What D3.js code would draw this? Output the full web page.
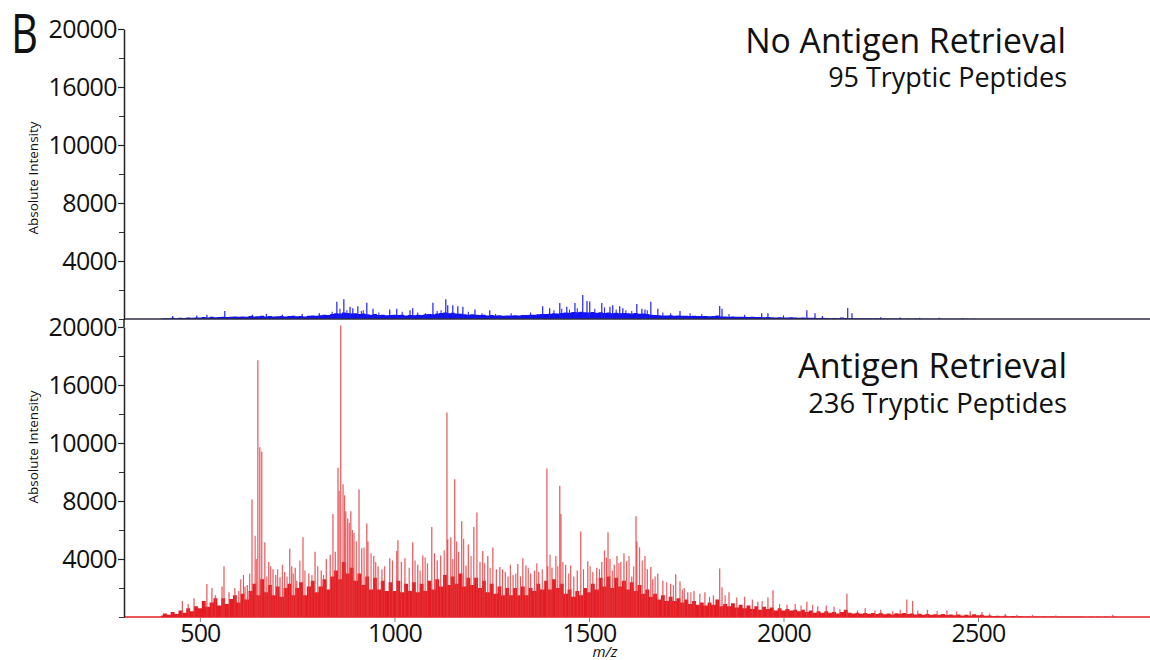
<!DOCTYPE html>
<html>
<head>
<meta charset="utf-8">
<script src="https://cdn.jsdelivr.net/npm/d3@7"></script>
<style>
  html, body { margin: 0; padding: 0; background: #fff; }
  svg { display: block; }
  text { font-family: "Open Sans", "Noto Sans", sans-serif; fill: #111; }
</style>
</head>
<body>
<svg id="chart" width="1150" height="660"></svg>
<script>
// ---------------- DATA ----------------
const yTickValues = [4000, 8000, 12000, 16000, 20000];
const yTickLabels = ["4000", "8000", "10000", "16000", "20000"];
const yMinorTicks = [2000, 6000, 10000, 14000, 18000];
const xTickValues = [500, 1000, 1500, 2000, 2500];
const xTickLabels = ["500", "1000", "1500", "2000", "2500"];

// dense signal envelope, 10 m/z steps
const redFillStart = 400;
const redFill = [
  100, 250, 150, 350, 200, 450, 300, 600, 400, 750,
  600, 1100, 700, 1000, 1300, 800, 1300, 900, 1250, 1500,
  1000, 1600, 1200, 1800, 2300, 1500, 2600, 1700, 2200, 1500,
  2100, 1400, 2000, 2300, 1500, 2000, 2400, 1500, 2100, 2500,
  1700, 2100, 2600, 1900, 2800, 3200, 2600, 3800, 3000, 3400,
  2500, 3000, 2200, 2800, 1900, 2700, 1900, 2500, 1800, 2400,
  1800, 2500, 1700, 2300, 1800, 2400, 1700, 2300, 1800, 2500,
  1900, 2600, 2100, 2900, 2200, 2800, 2300, 3000, 2100, 2700,
  2200, 2700, 2000, 2500, 1700, 2300, 1600, 2100, 1500, 2000,
  1500, 2000, 1500, 2100, 1500, 2000, 1800, 2300, 1900, 2500,
  1900, 2600, 2000, 2300, 1600, 1900, 1400, 1800, 1500, 2000,
  1700, 2300, 1900, 2700, 2100, 2800, 2000, 2700, 2100, 2500,
  1900, 2400, 1800, 2200, 1600, 1900, 1400, 1600, 1200, 1500,
  1100, 1400, 1100, 1300, 1000, 1200, 900, 1100, 850, 1000,
  800, 1000, 850, 1200, 750, 900, 750, 950, 650, 850,
  600, 800, 550, 750, 500, 700, 550, 650, 450, 600,
  450, 550, 450, 500, 400, 500, 350, 450, 300, 400,
  300, 400, 300, 350, 250, 350, 500, 300, 250, 300,
  230, 280, 220, 280, 200, 270, 190, 250, 180, 260,
  220, 280, 200, 250, 180, 230, 160, 210, 150, 190,
  150, 200, 130, 180, 120, 170, 110, 160, 100, 190,
  120, 150, 80, 100, 50, 90, 40, 80, 30, 70,
  30, 50, 20, 40, 20, 40, 20, 30, 15, 30,
  10, 25, 10, 20, 10, 20, 10, 15, 5, 15,
  5, 10, 5, 10, 5, 20, 5, 5, 0, 5, 0
];

// prominent peaks
const redPeakMz = [
  455, 470, 485, 518, 531, 540, 557, 562, 575, 590, 600, 616, 622, 634, 649, 654, 659, 667, 677, 688,
  695, 706, 718, 731, 736, 745, 749, 765, 780, 796, 812, 825, 835, 842, 848, 855, 862, 868, 875, 880,
  888, 896, 909, 916, 929, 932, 947, 958, 968, 988, 1006, 1009, 1018, 1027, 1047, 1060, 1073, 1085, 1096, 1110,
  1119, 1135, 1137, 1145, 1155, 1165, 1173, 1184, 1190, 1204, 1212, 1220, 1227, 1240, 1253, 1262, 1271, 1285, 1292, 1305,
  1317, 1330, 1338, 1350, 1360, 1371, 1392, 1394, 1405, 1415, 1425, 1428, 1440, 1453, 1461, 1470, 1479, 1497, 1510, 1520,
  1533, 1540, 1549, 1554, 1565, 1572, 1582, 1590, 1597, 1610, 1621, 1623, 1630, 1644, 1650, 1659, 1664, 1677, 1690, 1710,
  1723, 1734, 1745, 1754, 1770, 1785, 1798, 1820, 1836, 1842, 1860, 1880, 1900, 1920, 1934, 1960, 1973, 2009, 2030, 2060,
  2088, 2110, 2130, 2163, 2210, 2250, 2281, 2317, 2332, 2370, 2420, 2480, 2510, 2570, 2640, 2700, 2846
];
const redPeakInt = [
  1100, 900, 1300, 2270, 2000, 1500, 2100, 3500, 1700, 2000, 1800, 2100, 2200, 8100, 17700, 11700, 11400, 5150, 3800, 3300,
  2900, 2750, 3100, 4700, 3500, 3400, 2500, 5500, 3000, 4500, 3200, 4000, 4300, 7100, 4500, 10300, 20100, 9150, 7300, 6800,
  7300, 5800, 8800, 4750, 6450, 5200, 4200, 3500, 3300, 4050, 4550, 5300, 3800, 4050, 5150, 3600, 4250, 3700, 6200, 3900,
  4250, 14100, 5350, 5500, 9500, 4500, 6600, 3550, 5000, 6200, 7200, 3800, 4550, 4200, 4800, 3300, 3450, 3100, 2800, 2900,
  3650, 4050, 3550, 3000, 3200, 3100, 10250, 3500, 3400, 4200, 9050, 7100, 3600, 3550, 2800, 3200, 5900, 3850, 3100, 3400,
  3800, 4600, 5850, 4000, 3600, 4200, 3800, 4400, 3850, 2800, 6950, 5200, 4800, 4200, 3300, 3450, 2600, 3000, 2500, 2300,
  2950, 2450, 2000, 1700, 1800, 1600, 1700, 1500, 3350, 2050, 1700, 1350, 1400, 1200, 1050, 1350, 1850, 850, 900, 1050,
  750, 800, 700, 1600, 600, 500, 400, 1200, 1100, 500, 450, 400, 350, 200, 150, 100, 150
];

// smaller peaks within the dense signal
const redMinorMz = [
  605, 612, 628, 642, 645, 672, 682, 700, 712, 724, 740, 757, 770, 788, 803, 818, 858, 872, 884, 892,
  902, 922, 940, 952, 975, 995, 1038, 1053, 1066, 1079, 1103, 1128, 1150, 1160, 1178, 1197, 1232, 1246, 1278, 1298,
  1312, 1324, 1344, 1366, 1380, 1400, 1420, 1433, 1448, 1486, 1503, 1527, 1545, 1560, 1577, 1603, 1615, 1637, 1670, 1700,
  1717, 1740, 1762, 1810, 1850, 1945, 1990, 2045, 2075, 2145, 2190, 2235, 2300, 2345, 2395, 2445, 2530, 2600
];
const redMinorInt = [
  2600, 2900, 3000, 5600, 4000, 2800, 3500, 3300, 3600, 2800, 3000, 3900, 3200, 2900, 3500, 2900, 8700, 8400, 6500, 6000,
  5200, 4800, 4400, 3800, 3500, 3900, 3400, 3900, 3200, 4100, 4400, 4600, 4000, 5200, 5400, 4200, 3700, 3400, 3300, 3600,
  3000, 2800, 3400, 3700, 3300, 4300, 3500, 3800, 3000, 3300, 3500, 3300, 4100, 3200, 3700, 4200, 3500, 3900, 2800, 2400,
  2200, 1900, 1700, 1400, 1500, 1100, 900, 800, 850, 550, 450, 450, 500, 450, 420, 380, 250, 150
];

const blueFillStart = 400;
const blueFill = [
  40, 60, 50, 80, 60, 90, 70, 100, 80, 110,
  100, 130, 110, 150, 120, 140, 160, 130, 150, 170,
  150, 180, 160, 200, 170, 190, 220, 180, 200, 170,
  190, 210, 180, 200, 230, 190, 210, 180, 220, 250,
  230, 260, 300, 280, 350, 400, 380, 450, 420, 380,
  400, 350, 380, 320, 300, 340, 280, 300, 260, 280,
  300, 270, 290, 250, 280, 260, 300, 270, 320, 350,
  330, 380, 420, 450, 400, 430, 380, 360, 330, 300,
  320, 290, 270, 300, 250, 270, 240, 260, 230, 250,
  240, 260, 250, 280, 270, 300, 290, 320, 350, 340,
  360, 400, 380, 420, 450, 430, 480, 460, 500, 470,
  450, 480, 430, 460, 420, 440, 400, 430, 390, 410,
  400, 380, 420, 360, 380, 340, 300, 280, 260, 250,
  240, 260, 230, 250, 220, 230, 210, 220, 200, 210,
  200, 190, 210, 250, 180, 170, 160, 170, 150, 160,
  150, 140, 150, 130, 140, 120, 130, 120, 110, 120,
  110, 100, 120, 100, 90, 100, 80, 90, 80, 70,
  80, 70, 60, 70, 60, 100, 70, 60, 50, 60,
  50, 45, 50, 40, 45, 35, 40, 30, 35, 30,
  30, 25, 30, 20, 30, 20, 25, 20, 15, 20,
  15, 20, 10, 15, 10, 15, 10, 10, 5, 10,
  5, 5, 0
];

const bluePeakMz = [
  430, 492, 518, 564, 635, 671, 712, 763, 807, 852, 870, 886, 893, 906, 929, 945, 988, 1006, 1040, 1047,
  1099, 1132, 1137, 1150, 1163, 1176, 1207, 1245, 1381, 1399, 1425, 1443, 1464, 1484, 1495, 1502, 1533, 1554, 1561, 1579,
  1587, 1623, 1636, 1644, 1659, 1677, 1734, 1836, 1842, 1944, 1960, 2060, 2081, 2165, 2176, 2250, 2300, 2350, 2400, 2460
];
const bluePeakInt = [
  200, 250, 300, 550, 300, 350, 300, 350, 400, 1190, 1360, 850, 750, 880, 1120, 700, 650, 700, 600, 750,
  1120, 1360, 950, 950, 880, 850, 650, 600, 880, 750, 1100, 850, 1100, 1650, 1250, 1200, 1100, 850, 950, 880,
  750, 1030, 700, 650, 1190, 700, 550, 900, 700, 400, 400, 600, 400, 760, 400, 120, 100, 90, 80, 70
];
const blueMinorMz = [
  840, 860, 878, 915, 920, 960, 1020, 1060, 1080, 1110, 1120, 1190, 1225, 1260, 1300, 1350, 1410, 1430, 1450, 1470,
  1515, 1540, 1570, 1595, 1610, 1650, 1690, 1710, 1760, 1790, 1860, 1900, 2000, 2100
];
const blueMinorInt = [
  500, 700, 600, 550, 600, 450, 500, 450, 400, 550, 600, 500, 400, 350, 400, 450, 600, 700, 650, 750,
  700, 800, 650, 600, 550, 600, 450, 400, 400, 350, 350, 300, 250, 200
];

// ---------------- CHART ----------------
const svg = d3.select("#chart");
svg.append("rect").attr("width", 1150).attr("height", 660).attr("fill", "#fff");

const x = d3.scaleLinear().domain([305, 2942]).range([124, 1150]);
const yTop = d3.scaleLinear().domain([0, 20000]).range([319, 29]);
const yBot = d3.scaleLinear().domain([0, 20000]).range([617, 327]);

const RED = "#e31d23", RED_STICK = "#e5383d";
const BLUE = "#1212ee", BLUE_STICK = "#1a1aff";

function sticks(g, y, mz, ints, color, w, op) {
  g.append("g").selectAll("line").data(mz.map((m, i) => ({ m, v: ints[i] })))
    .join("line")
    .attr("x1", d => x(d.m)).attr("x2", d => x(d.m))
    .attr("y1", y(0)).attr("y2", d => y(d.v))
    .attr("stroke", color).attr("stroke-width", w).attr("stroke-opacity", op);
}
function drawSpectrum(g, y, fill, fillStart, fillColor) {
  const pts = fill.map((v, i) => ({ m: fillStart + i * 10, v }));
  const area = d3.area().curve(d3.curveStep).x(d => x(d.m)).y0(y(0)).y1(d => y(d.v));
  g.append("path").datum(pts).attr("d", area).attr("fill", fillColor);
}

// bottom (red) panel
const gBot = svg.append("g");
gBot.append("line").attr("x1", x(305)).attr("x2", x(2942)).attr("y1", yBot(0)).attr("y2", yBot(0))
  .attr("stroke", RED).attr("stroke-width", 1.5);
drawSpectrum(gBot, yBot, redFill, redFillStart, RED);
sticks(gBot, yBot, redMinorMz, redMinorInt, RED_STICK, 1.1, 0.85);
sticks(gBot, yBot, redPeakMz, redPeakInt, RED_STICK, 1.3, 0.8);

// top (blue) panel
const gTop = svg.append("g");
drawSpectrum(gTop, yTop, blueFill, blueFillStart, BLUE);
sticks(gTop, yTop, blueMinorMz, blueMinorInt, BLUE_STICK, 1.1, 0.9);
sticks(gTop, yTop, bluePeakMz, bluePeakInt, BLUE_STICK, 1.3, 0.9);
gTop.append("line").attr("x1", x(305)).attr("x2", x(2942)).attr("y1", yTop(0)).attr("y2", yTop(0))
  .attr("stroke", "#2c2c44").attr("stroke-width", 1.6);

// y axes
function yAxis(y) {
  const major = svg.append("g").attr("transform", "translate(124,0)")
    .call(d3.axisLeft(y).tickValues(yTickValues).tickFormat((d, i) => yTickLabels[i]).tickSize(6).tickSizeOuter(0).tickPadding(1));
  major.select(".domain").attr("stroke", "#222").attr("stroke-width", 1.5);
  major.selectAll(".tick line").attr("stroke", "#222").attr("stroke-width", 1.2);
  major.selectAll(".tick text").attr("font-size", 25).attr("font-family", "Open Sans").attr("fill", "#111").attr("letter-spacing", -0.6);
  const minor = svg.append("g").attr("transform", "translate(124,0)")
    .call(d3.axisLeft(y).tickValues(yMinorTicks.concat([0])).tickFormat("").tickSize(5).tickSizeOuter(0));
  minor.select(".domain").remove();
  minor.selectAll(".tick line").attr("stroke", "#333").attr("stroke-width", 1);
}
yAxis(yTop);
yAxis(yBot);
svg.append("line").attr("x1", 124).attr("x2", 124).attr("y1", yTop(0)).attr("y2", yBot(20000))
  .attr("stroke", "#222").attr("stroke-width", 1.5);

// x axis
const xa = svg.append("g").attr("transform", `translate(0,${yBot(0) + 1})`)
  .call(d3.axisBottom(x).tickValues(xTickValues).tickFormat((d, i) => xTickLabels[i]).tickSize(4).tickPadding(2).tickSizeOuter(0));
xa.select(".domain").remove();
xa.selectAll(".tick line").attr("stroke", "#888");
xa.selectAll(".tick text").attr("font-size", 25).attr("font-family", "Open Sans").attr("fill", "#111").attr("letter-spacing", -0.8);

// axis titles
function yTitle(cy) {
  svg.append("text").attr("transform", `translate(38,${cy}) rotate(-90)`)
    .attr("text-anchor", "middle").attr("font-size", 13.5).attr("fill", "#222").text("Absolute Intensity");
}
yTitle(178);
yTitle(447);
svg.append("text").attr("x", 605).attr("y", 657).attr("text-anchor", "middle")
  .attr("font-size", 15).attr("font-style", "italic").attr("fill", "#222").text("m/z");

// panel letter
svg.append("text").attr("x", 11).attr("y", 53)
  .attr("font-family", "Liberation Sans").attr("font-size", 54).attr("fill", "#111")
  .attr("textLength", 27).attr("lengthAdjust", "spacingAndGlyphs")
  .text("B");

// annotations, fitted to measured widths
function label(txt, xr, yb, width, base) {
  const t = svg.append("text").attr("x", xr).attr("y", yb).attr("text-anchor", "end")
    .attr("font-size", base).attr("fill", "#111").text(txt);
  const w = t.node().getComputedTextLength();
  t.attr("font-size", base * width / w);
}
label("No Antigen Retrieval", 1066, 53, 321, 32);
label("95 Tryptic Peptides", 1067, 87, 239, 24);
label("Antigen Retrieval", 1067, 378, 269, 32);
label("236 Tryptic Peptides", 1067, 413, 259, 24);
</script>
</body>
</html>
